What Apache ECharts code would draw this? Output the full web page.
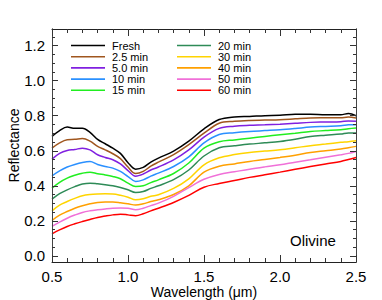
<!DOCTYPE html>
<html>
<head>
<meta charset="utf-8">
<script src="https://cdn.jsdelivr.net/npm/echarts@6/dist/echarts.min.js"></script>
<style>html,body{margin:0;padding:0;background:#fff;}#c{width:382px;height:300px;}</style>
</head>
<body>
<div id="c"></div>
<script>
const wavelengths = [0.50,0.55,0.60,0.65,0.70,0.75,0.80,0.85,0.90,0.95,1.00,1.05,1.10,1.15,1.20,1.30,1.40,1.50,1.60,1.70,1.80,1.90,2.00,2.10,2.20,2.30,2.40,2.45,2.50];
const seriesNames = ['Fresh','2.5 min','5.0 min','10 min','15 min','20 min','30 min','40 min','50 min','60 min'];
const fresh  = [0.682,0.715,0.735,0.728,0.728,0.705,0.665,0.640,0.615,0.585,0.532,0.495,0.505,0.535,0.558,0.598,0.655,0.725,0.778,0.793,0.796,0.800,0.802,0.808,0.808,0.806,0.806,0.812,0.800];
const min2_5 = [0.615,0.645,0.663,0.665,0.670,0.655,0.625,0.605,0.583,0.555,0.507,0.470,0.482,0.512,0.535,0.578,0.635,0.700,0.757,0.768,0.773,0.775,0.777,0.782,0.787,0.788,0.789,0.792,0.787];
const min5_0 = [0.552,0.585,0.602,0.607,0.615,0.605,0.577,0.562,0.549,0.525,0.487,0.455,0.467,0.490,0.507,0.548,0.605,0.678,0.728,0.740,0.745,0.748,0.752,0.757,0.762,0.764,0.766,0.770,0.768];
const min10  = [0.457,0.485,0.507,0.522,0.533,0.538,0.522,0.510,0.501,0.482,0.453,0.425,0.434,0.455,0.472,0.510,0.565,0.645,0.693,0.703,0.710,0.715,0.720,0.727,0.735,0.739,0.743,0.748,0.749];
const min15  = [0.387,0.420,0.444,0.460,0.472,0.478,0.469,0.462,0.453,0.440,0.415,0.396,0.400,0.418,0.434,0.470,0.530,0.615,0.651,0.662,0.672,0.682,0.691,0.700,0.710,0.715,0.720,0.726,0.730];
const min20  = [0.324,0.355,0.377,0.395,0.410,0.415,0.411,0.406,0.400,0.390,0.377,0.362,0.367,0.385,0.400,0.435,0.490,0.570,0.617,0.628,0.638,0.645,0.653,0.666,0.682,0.689,0.695,0.702,0.701];
const min30  = [0.257,0.290,0.310,0.328,0.343,0.350,0.353,0.354,0.353,0.346,0.335,0.320,0.326,0.340,0.349,0.385,0.440,0.520,0.560,0.578,0.590,0.598,0.606,0.617,0.629,0.638,0.648,0.652,0.657];
const min40  = [0.202,0.232,0.253,0.272,0.286,0.297,0.305,0.307,0.307,0.303,0.297,0.290,0.297,0.310,0.320,0.350,0.400,0.478,0.512,0.525,0.539,0.550,0.562,0.575,0.590,0.600,0.610,0.617,0.625];
const min50  = [0.168,0.193,0.215,0.233,0.248,0.257,0.263,0.268,0.272,0.273,0.272,0.263,0.272,0.287,0.301,0.340,0.390,0.437,0.465,0.480,0.495,0.508,0.520,0.535,0.549,0.563,0.577,0.585,0.596];
const min60  = [0.126,0.148,0.168,0.183,0.196,0.208,0.219,0.227,0.234,0.238,0.234,0.229,0.240,0.257,0.272,0.305,0.345,0.392,0.413,0.430,0.448,0.463,0.478,0.494,0.510,0.525,0.539,0.550,0.562];
const yTickValues = [0.0,0.2,0.4,0.6,0.8,1.0,1.2];
const yMinorValues = [0.05,0.1,0.15,0.25,0.3,0.35,0.45,0.5,0.55,0.65,0.7,0.75,0.85,0.9,0.95,1.05,1.1,1.15,1.25];

const allValues = [fresh,min2_5,min5_0,min10,min15,min20,min30,min40,min50,min60];
const colors = ['#000000','#a0561e','#8020e0','#2a90ff','#20ee20','#2e8b57','#ffd400','#ffa000','#f070d8','#ff0000'];
const FONT = 'Liberation Sans, Arial, Helvetica, sans-serif';
const YMIN = -0.035, YMAX = 1.295;
const LEGEND_ICON = 'path://M0,0L34,0L34,1.6L0,1.6Z';

const chart = echarts.init(document.getElementById('c'), null, {renderer:'svg'});
const series = allValues.map((vals,i)=>({
  name: seriesNames[i], type:'line', xAxisIndex:0, yAxisIndex:0,
  data: wavelengths.map((w,j)=>[w, vals[j]]),
  symbol:'none', smooth:0.35,
  lineStyle:{color:colors[i], width:1.5}, itemStyle:{color:colors[i]}
}));
function yAx(pos, vals, len, labels){
  const ax = {type:'value', position:pos, min:YMIN, max:YMAX, z:10,
    axisLine:{show:true, onZero:false, lineStyle:{color:'#444', width:1}},
    axisTick:{show:true, inside:true, length:len, customValues: vals, lineStyle:{color:'#333', width:1}},
    axisLabel:{show:labels, customValues: yTickValues, formatter:v=>v.toFixed(1), color:'#000', fontSize:15, fontFamily:FONT, margin:7},
    splitLine:{show:false}
  };
  if (labels) { ax.name = 'Reflectance'; ax.nameLocation = 'middle'; ax.nameGap = 31; ax.nameMoveOverlap = false;
    ax.nameTextStyle = {color:'#000', fontSize:14, fontFamily:FONT}; }
  return ax;
}
function xAx(pos, labels){
  const ax = {type:'value', position:pos, min:0.5, max:2.5, interval:0.5, z:10,
     axisLine:{show:true, onZero:false, lineStyle:{color:'#222', width:1}},
     axisTick:{show:true, inside:true, length:7, lineStyle:{color:'#333', width:1}},
     minorTick:{show:true, splitNumber:5, length:4, lineStyle:{color:'#333', width:1}},
     axisLabel:{show:labels, formatter:v=>v.toFixed(1), color:'#000', fontSize:15, fontFamily:FONT, margin:7},
     splitLine:{show:false}};
  if (labels) { ax.name = 'Wavelength (\u03bcm)'; ax.nameLocation = 'middle'; ax.nameGap = 23; ax.nameMoveOverlap = false;
    ax.nameTextStyle = {color:'#000', fontSize:14, fontFamily:FONT}; }
  return ax;
}
function legendFor(names, left){
  return {data:names.map(n=>({name:n, icon:LEGEND_ICON})), orient:'vertical', left:left, top:40, padding:0,
     itemWidth:34, itemHeight:10, itemGap:0.2, selectedMode:false, symbolKeepAspect:true,
     textStyle:{color:'#000', fontSize:11, fontFamily:FONT, lineHeight:10, padding:[0,0,0,2]}};
}
const option = {
  animation:false,
  title:{text:'Olivine', left:290, top:233, padding:0, textStyle:{color:'#000', fontSize:15, fontWeight:'normal', fontFamily:FONT}},
  grid:{left:52, right:26, top:29, bottom:38, outerBoundsMode:'none'},
  xAxis:[ xAx('bottom', true), xAx('top', false) ],
  yAxis:[
    yAx('left', yTickValues, 6, true),
    yAx('left', yMinorValues, 3, false),
    yAx('right', yTickValues, 6, false),
    yAx('right', yMinorValues, 3, false)
  ],
  legend:[ legendFor(seriesNames.slice(0,5), 71), legendFor(seriesNames.slice(5), 177) ],
  series: series
};
chart.setOption(option);
</script>
</body>
</html>
